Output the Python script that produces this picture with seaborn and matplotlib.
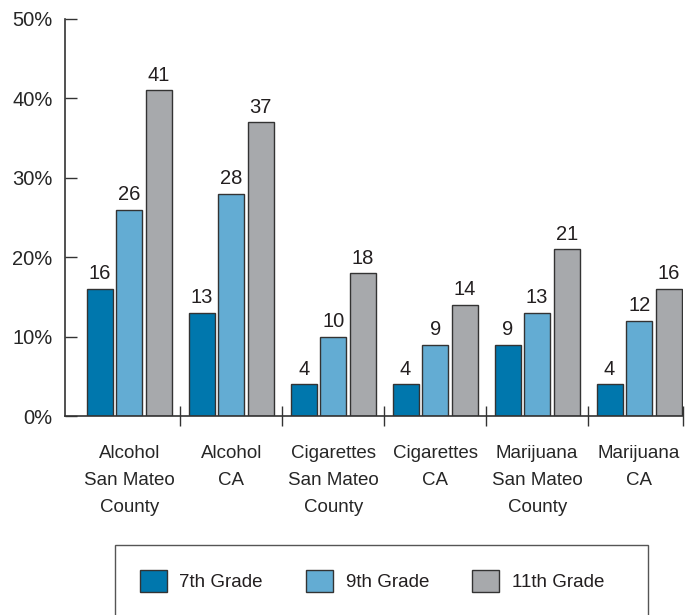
import matplotlib
matplotlib.use("Agg")
import matplotlib.pyplot as plt
from matplotlib.patches import Rectangle
from matplotlib.ticker import FixedLocator
import pandas as pd
import seaborn as sns

# data
categories = ["Alcohol\nSan Mateo\nCounty", "Alcohol\nCA", "Cigarettes\nSan Mateo\nCounty",
              "Cigarettes\nCA", "Marijuana\nSan Mateo\nCounty", "Marijuana\nCA"]
grades = ["7th Grade", "9th Grade", "11th Grade"]
grade7 = [16, 13, 4, 4, 9, 4]
grade9 = [26, 28, 10, 9, 13, 12]
grade11 = [41, 37, 18, 14, 21, 16]
colors = ["#0077ad", "#63acd3", "#a7a9ac"]
yticks = [0, 10, 20, 30, 40, 50]

rows = []
for g, vals in zip(grades, [grade7, grade9, grade11]):
    for c, v in zip(categories, vals):
        rows.append({"category": c, "grade": g, "value": v})
df = pd.DataFrame(rows)

sns.set_style("white")
plt.rcParams["font.family"] = ["Liberation Sans", "DejaVu Sans"]
plt.rcParams["text.color"] = "#231f20"

fig = plt.figure(figsize=(6.91, 6.15), dpi=100)
ax = fig.add_axes([65 / 691, 1 - 416 / 615, (683 - 65) / 691, (416 - 19) / 615])

sns.barplot(data=df, x="category", y="value", hue="grade", order=categories,
            hue_order=grades, palette=colors, saturation=1, width=0.87, gap=0.12,
            edgecolor="#333333", linewidth=1, ax=ax)

for cont in ax.containers:
    ax.bar_label(cont, padding=4, fontsize=14.5, color="#231f20")

handles, labels = ax.get_legend_handles_labels()
ax.get_legend().remove()

ax.set_ylim(0, 50)
ax.set_xlim(-0.63, 5.43)
ax.set_yticks(yticks)
ax.set_yticklabels([f"{v}%" for v in yticks], fontsize=14.5)
ax.tick_params(axis="y", direction="in", length=8.5, width=1, color="#333333",
               left=True, pad=9)

# category labels on minor ticks, separators on major ticks
ax.xaxis.set_major_locator(FixedLocator([0.5, 1.5, 2.5, 3.5, 4.5, 5.43]))
ax.xaxis.set_minor_locator(FixedLocator(range(len(categories))))
ax.set_xticklabels([""] * 6)
ax.set_xticklabels(categories, minor=True, fontsize=13.5, linespacing=1.75)
ax.tick_params(axis="x", which="major", direction="inout", length=14, width=1,
               color="#333333", bottom=True)
ax.tick_params(axis="x", which="minor", length=0, pad=21)
ax.set_xlabel("")
ax.set_ylabel("")

for s in ["top", "right"]:
    ax.spines[s].set_visible(False)
for s in ["left", "bottom"]:
    ax.spines[s].set_color("#333333")
    ax.spines[s].set_linewidth(1.2)

# legend box runs off the bottom of the figure
fig.add_artist(Rectangle((115 / 691, -0.05), (648 - 115) / 691, 1 - 545 / 615 + 0.05,
                         transform=fig.transFigure, facecolor="none",
                         edgecolor="#555555", linewidth=1))
fig.legend(handles, labels, loc="center", bbox_to_anchor=(372 / 691, 1 - 581 / 615),
           ncol=3, frameon=False, fontsize=13.5, handlelength=1.45, handleheight=1.45,
           handletextpad=0.66, columnspacing=2.3)

fig.savefig("out.png", dpi=100)
